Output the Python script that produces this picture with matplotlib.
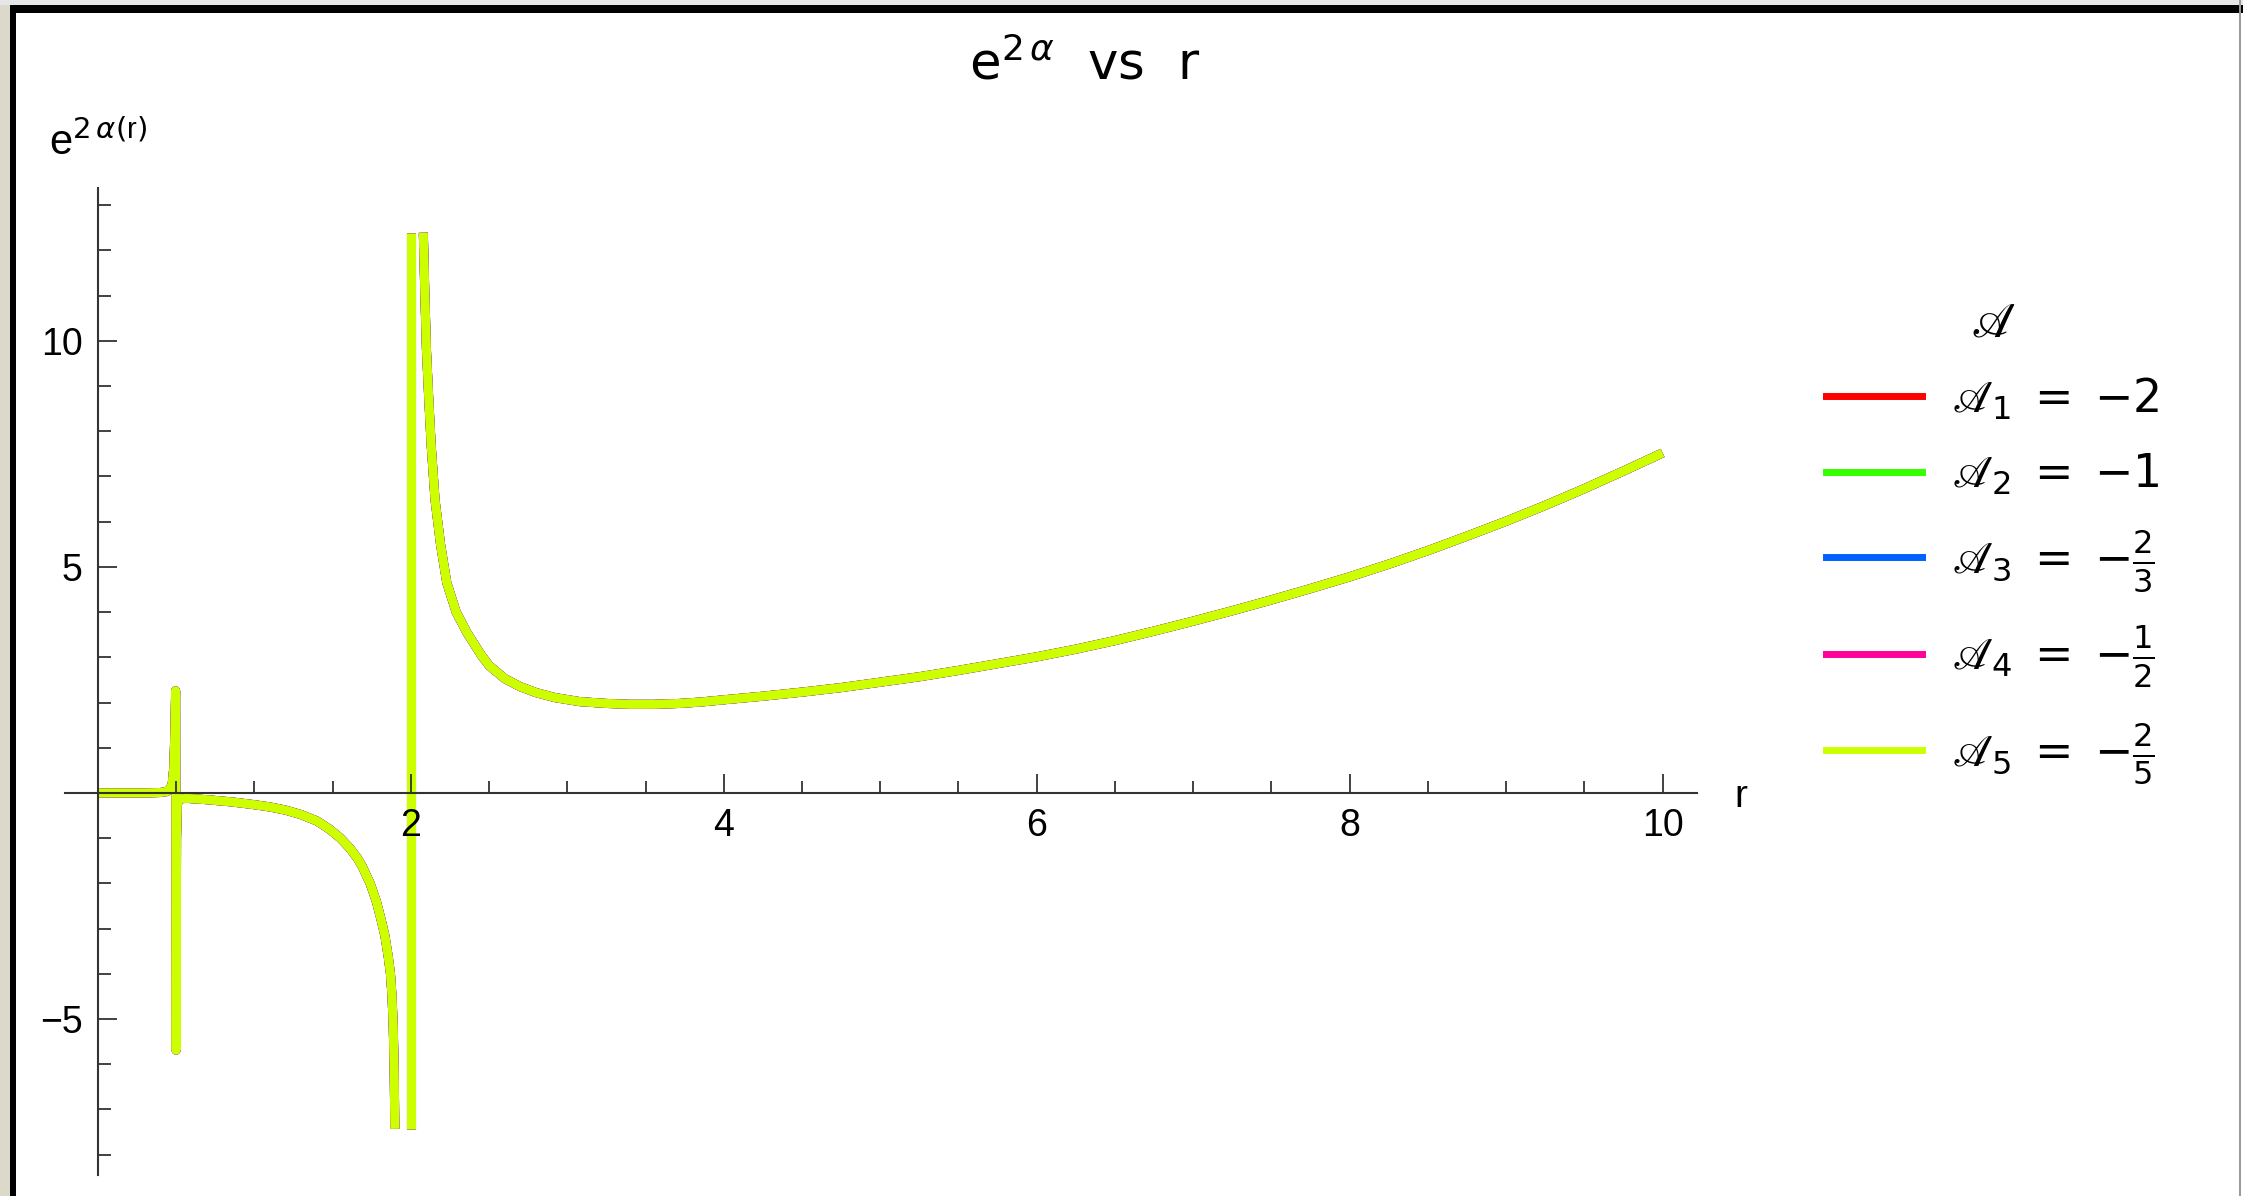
import numpy as np
import matplotlib
matplotlib.use('Agg')
import matplotlib.pyplot as plt
from matplotlib.lines import Line2D
from matplotlib.patches import Rectangle
from matplotlib.ticker import FixedLocator, MultipleLocator, NullFormatter

plt.rcParams['font.family'] = ['Liberation Sans', 'DejaVu Sans']
plt.rcParams['mathtext.fontset'] = 'dejavusans'

W, H, DPI = 2243, 1196, 100

# e^{2 alpha(r)}; the five parameter values give the same curve
# piece 1: flat part, spike at r = 0.5, then the negative branch up to the pole
r_inner = [0.0, 0.10, 0.20, 0.30, 0.40, 0.44, 0.46, 0.475, 0.485, 0.492, 0.497,
           0.500, 0.503, 0.508, 0.52, 0.57, 0.70, 0.86, 1.00, 1.10, 1.20, 1.30,
           1.40, 1.48, 1.55, 1.61, 1.66, 1.69, 1.74, 1.78, 1.81, 1.834, 1.855,
           1.87, 1.88, 1.888, 1.894, 1.898]
v_inner = [0.0, 0.0, 0.0, 0.0, 0.01, 0.03, 0.08, 0.20, 0.55, 1.30, 2.26,
           -5.69, -1.00, -0.25, -0.13, -0.12, -0.15, -0.20, -0.26, -0.31, -0.38, -0.48,
           -0.62, -0.80, -1.00, -1.22, -1.45, -1.63, -2.00, -2.40, -2.80, -3.15, -3.60,
           -4.00, -4.50, -5.20, -6.20, -7.43]
# piece 2: jump at r = 2
r_wall = [2.0, 2.0]
v_wall = [-7.43, 12.39]
# piece 3: positive branch
r_outer = [2.08, 2.09, 2.10, 2.115, 2.13, 2.155, 2.19, 2.23, 2.29, 2.36, 2.45,
           2.50, 2.60, 2.70, 2.80, 2.92, 3.08, 3.25, 3.40, 3.55, 3.72, 3.85,
           4.0, 4.25, 4.5, 4.75, 5.0, 5.25, 5.5, 5.75, 6.0, 6.25, 6.5, 6.75,
           7.0, 7.25, 7.5, 7.75, 8.0, 8.25, 8.5, 8.75, 9.0, 9.25, 9.5, 9.75, 10.0]
v_outer = [12.39, 11.00, 9.80, 8.70, 7.70, 6.48, 5.50, 4.65, 4.00, 3.54, 3.05,
           2.82, 2.53, 2.35, 2.22, 2.11, 2.02, 1.98, 1.96, 1.96, 1.98, 2.01,
           2.06, 2.14, 2.23, 2.33, 2.45, 2.57, 2.71, 2.86, 3.01, 3.18, 3.37, 3.58,
           3.80, 4.03, 4.27, 4.52, 4.78, 5.06, 5.36, 5.68, 6.01, 6.36, 6.73, 7.12, 7.52]

series_labels = [r'$\mathscr{A}_1\;=\;{-2}$', r'$\mathscr{A}_2\;=\;{-1}$',
                 r'$\mathscr{A}_3\;=\;{-\frac{2}{3}}$', r'$\mathscr{A}_4\;=\;{-\frac{1}{2}}$',
                 r'$\mathscr{A}_5\;=\;{-\frac{2}{5}}$']
series_colors = ['#ff0000', '#33ff00', '#0061ff', '#ff0099', '#ccff00']

x_major = [2, 4, 6, 8, 10]
y_major = [-5, 5, 10]

fig = plt.figure(figsize=(W / DPI, H / DPI), dpi=DPI)
fig.patch.set_facecolor('white')

# screenshot frame
fig.patches.append(Rectangle((0, 0), 10 / W, 1, transform=fig.transFigure,
                             facecolor='#dcd9cb', edgecolor='none', zorder=0))
fig.patches.append(Rectangle((0, 1 - 5 / H), 1, 5 / H, transform=fig.transFigure,
                             facecolor='#e6e6e6', edgecolor='none', zorder=0))
fig.patches.append(Rectangle((10 / W, 1 - 13 / H), 1, 8 / H, transform=fig.transFigure,
                             facecolor='black', edgecolor='none', zorder=1))
fig.patches.append(Rectangle((10 / W, 0), 6 / W, 1 - 5 / H, transform=fig.transFigure,
                             facecolor='black', edgecolor='none', zorder=1))
fig.patches.append(Rectangle((2239 / W, 0), 2 / W, 1, transform=fig.transFigure,
                             facecolor='#9a9a9a', edgecolor='none', zorder=1))

ax = fig.add_axes([65 / W, 1 - 1175 / H, (1697 - 65) / W, (1175 - 188) / H])
ax.set_facecolor('none')

for col in series_colors:
    for rr, vv in [(r_inner, v_inner), (r_wall, v_wall), (r_outer, v_outer)]:
        ax.plot(rr, vv, color=col, lw=6.5, solid_capstyle='butt',
                solid_joinstyle='round', zorder=1.5)

ax.set_xlim(-0.21, 10.22)
ax.set_ylim(-8.45, 13.38)

for s in ['top', 'right']:
    ax.spines[s].set_visible(False)
ax.spines['left'].set_position(('data', 0))
ax.spines['bottom'].set_position(('data', 0))
for s in ['left', 'bottom']:
    ax.spines[s].set_color('#333333')
    ax.spines[s].set_linewidth(1.5)

ax.xaxis.set_major_locator(FixedLocator(x_major))
ax.xaxis.set_minor_locator(MultipleLocator(0.5))
ax.yaxis.set_major_locator(FixedLocator(y_major))
ax.yaxis.set_minor_locator(MultipleLocator(1))
ax.xaxis.set_minor_formatter(NullFormatter())
ax.yaxis.set_minor_formatter(NullFormatter())
ax.tick_params(which='major', direction='in', length=14, width=1.3, color='#333333',
               labelsize=27, pad=11)
ax.tick_params(which='minor', direction='in', length=9, width=1.3, color='#333333')

ax.text(10.5, -0.31, 'r', fontsize=28, ha='center', va='baseline', clip_on=False)
ax.text(-0.31, 14.1, r'$\mathregular{e}^{2\,\alpha(\mathregular{r})}$', fontsize=30,
        ha='left', va='baseline', clip_on=False)

fig.text(1085 / W, 1 - 80 / H, r'$\mathregular{e}^{2\,\alpha}$  vs  r', fontsize=37,
         family='DejaVu Sans', ha='center', va='baseline')

handles = [Line2D([], [], color=c, lw=5) for c in series_colors]
ax.legend(handles, series_labels, title=r'$\mathscr{A}$', loc='upper left',
          bbox_to_anchor=(1826 / W, 1 - 300 / H), bbox_transform=fig.transFigure,
          frameon=False, fontsize=33, title_fontsize=36, handlelength=2.1,
          handletextpad=0.65, labelspacing=0.65, borderpad=0, borderaxespad=0)

fig.savefig('out.png', dpi=DPI, facecolor='white')
